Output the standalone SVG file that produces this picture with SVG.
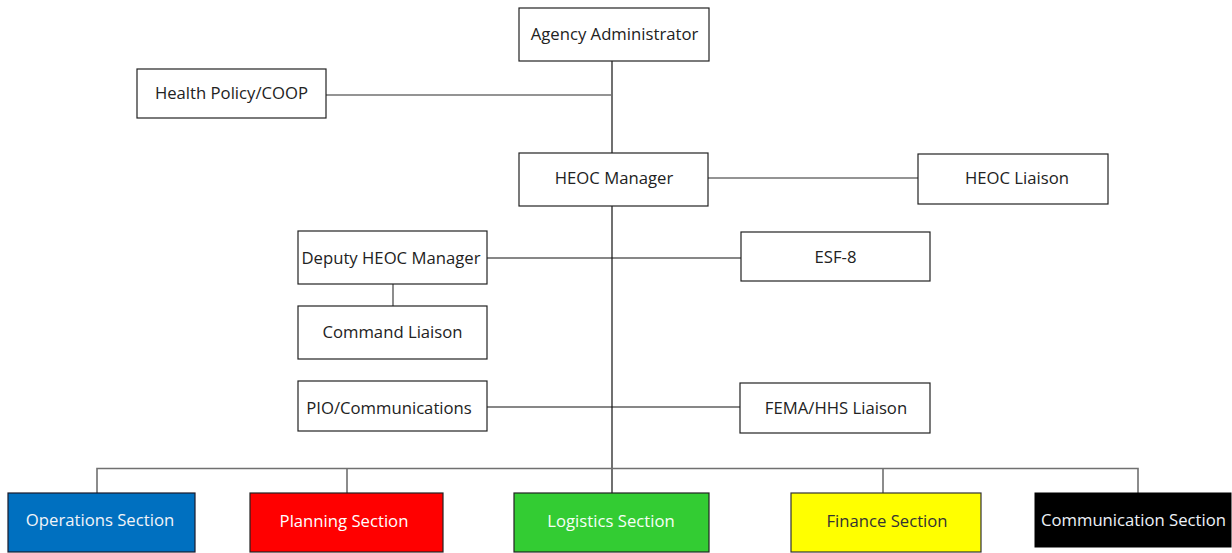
<svg xmlns="http://www.w3.org/2000/svg" width="1232" height="553" viewBox="0 0 1232 553">
<style>
.box{fill:#fff;stroke:#222;stroke-width:1.2}
.t{font-family:"Open Sans","Noto Sans","Liberation Sans",sans-serif;font-size:16.7px;fill:#222;text-anchor:middle;dominant-baseline:central}
.w{fill:#f2f4f8}
.g{stroke:#707070;stroke-width:1.6;fill:none}
.k{stroke:#111;stroke-width:1.2;fill:none}
</style>
<rect width="1232" height="553" fill="#fff"/>
<g id="connectors">
<path class="k" d="M612 61V493"/>
<path class="g" d="M326 95H612"/>
<path class="g" d="M708 178H918"/>
<path class="k" d="M487 258H741"/>
<path class="g" d="M393 284V306"/>
<path class="k" d="M487 407H740"/>
<path class="g" d="M97 493V468.5H1138V493M347 468.5V493M883 468.5V493"/>
</g>
<g id="agency-administrator"><rect class="box" x="519" y="8" width="190" height="53"/><text class="t" x="614.5" y="33.5">Agency Administrator</text></g>
<g id="health-policy"><rect class="box" x="137" y="69" width="189" height="49"/><text class="t" x="231.5" y="92.5">Health Policy/COOP</text></g>
<g id="heoc-manager"><rect class="box" x="519" y="153" width="189" height="53"/><text class="t" x="614" y="177">HEOC Manager</text></g>
<g id="heoc-liaison"><rect class="box" x="918" y="154" width="190" height="50"/><text class="t" x="1017" y="177">HEOC Liaison</text></g>
<g id="deputy-heoc-manager"><rect class="box" x="298" y="231" width="189" height="53"/><text class="t" x="391" y="257">Deputy HEOC Manager</text></g>
<g id="esf-8"><rect class="box" x="741" y="232" width="189" height="49"/><text class="t" x="835.5" y="256">ESF-8</text></g>
<g id="command-liaison"><rect class="box" x="298" y="306" width="189" height="53"/><text class="t" x="392.5" y="331">Command Liaison</text></g>
<g id="pio-communications"><rect class="box" x="298" y="381" width="189" height="50"/><text class="t" x="389" y="407">PIO/Communications</text></g>
<g id="fema-hhs-liaison"><rect class="box" x="740" y="383" width="190" height="50"/><text class="t" x="836" y="407">FEMA/HHS Liaison</text></g>
<g id="operations-section"><rect x="8" y="493" width="187" height="59" fill="#0070C0" stroke="#1a1a2a" stroke-width="1.2"/><text class="t w" x="100" y="519">Operations Section</text></g>
<g id="planning-section"><rect x="250" y="493" width="193" height="59" fill="#FF0000" stroke="#222" stroke-width="1.2"/><text class="t" style="fill:#fff" x="344" y="520">Planning Section</text></g>
<g id="logistics-section"><rect x="514" y="493" width="195" height="59" fill="#33CC33" stroke="#222" stroke-width="1.2"/><text class="t" style="fill:#f6fff6" x="611" y="520">Logistics Section</text></g>
<g id="finance-section"><rect x="791" y="493" width="190" height="59" fill="#FFFF00" stroke="#333" stroke-width="1.2"/><text class="t" style="fill:#333" x="887" y="520">Finance Section</text></g>
<g id="communication-section"><rect x="1035" y="493" width="196" height="54" fill="#000" stroke="#000"/><text class="t" style="fill:#eef2f8" x="1133.5" y="519">Communication Section</text></g>
</svg>
